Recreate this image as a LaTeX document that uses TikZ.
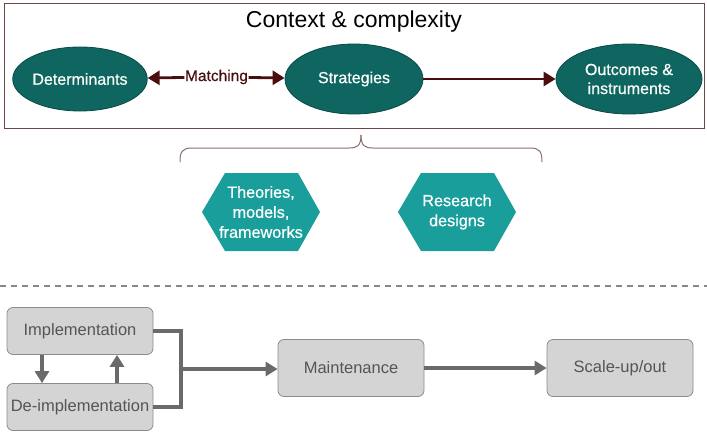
\documentclass[tikz,border=0pt]{standalone}
\usepackage{fontspec}
\setmainfont{Liberation Sans}
\newfontfamily\medfont[FakeBold=0.5]{Liberation Sans}
\usetikzlibrary{shapes.geometric,arrows.meta}
\definecolor{frameC}{HTML}{6E4545}
\definecolor{ellC}{HTML}{0F6661}
\definecolor{ellB}{HTML}{0A4844}
\definecolor{hexC}{HTML}{1A9E9C}
\definecolor{arrC}{HTML}{4A0E0E}
\definecolor{boxC}{HTML}{D4D4D4}
\definecolor{boxB}{HTML}{8C8C8C}
\definecolor{lineC}{HTML}{6A6A6A}
\definecolor{txtC}{HTML}{555555}
\definecolor{braceC}{HTML}{8A6E6E}
\tikzset{
  ell/.style={ellipse, fill=ellC, draw=ellB, line width=0.8pt, text=white, font=\medfont\fontsize{16}{19}\selectfont, align=center, inner sep=0pt},
  hexlab/.style={text=white, font=\medfont\fontsize{16.2}{20}\selectfont, align=center},
  gbox/.style={rectangle, rounded corners=6pt, fill=boxC, draw=boxB, line width=0.8pt, text=txtC, font=\fontsize{16.5}{19}\selectfont, minimum width=146pt, inner sep=0pt},
  darr/.style={draw=arrC, line width=2.8pt, -{Triangle[length=12pt,width=14pt]}},
  garr/.style={draw=lineC, line width=3.2pt, -{Triangle[length=12pt,width=14pt]}},
  gline/.style={draw=lineC, line width=3.2pt},
}
\begin{document}
\begin{tikzpicture}[x=1pt,y=-1pt]
\useasboundingbox (0,0) rectangle (707,434);
% frame
\node[draw=frameC, line width=0.9pt, minimum width=700pt, minimum height=125pt, inner sep=0pt] (frame) at (354,65.5) {};
\node[font=\fontsize{23}{26}\selectfont] (title) at (354,22) {Context \& complexity};
% ellipses
\node[ell, minimum width=134pt, minimum height=64pt] (det) at (80,79) {Determinants};
\node[ell, minimum width=138pt, minimum height=70pt] (str) at (354,79) {Strategies};
\node[ell, minimum width=146pt, minimum height=70pt] (out) at (629,79) {Outcomes \&\\instruments};
\node[text=arrC, font=\medfont\fontsize{15.5}{17}\selectfont, inner sep=0.5pt] (match) at (216.5,77) {Matching};
\draw[darr] (match) -- (det);
\draw[darr] (match) -- (str);
\draw[darr] (str) -- (out);
% brace
\coordinate (bl) at (180,162);
\coordinate (br) at (542,162);
\coordinate (bt) at (361,135);
\draw[braceC, line width=1pt] (bl) .. controls (180,152) and (182,148) .. (192,148) -- (349,148) .. controls (357,148) and (361,146) .. (bt);
\draw[braceC, line width=1pt] (br) .. controls (542,152) and (540,148) .. (530,148) -- (373,148) .. controls (365,148) and (361,146) .. (bt);
% hexagons
\fill[hexC] (202,212) -- (225,173) -- (298,173) -- (320,212) -- (298,251) -- (225,251) -- cycle;
\node[hexlab] (theo) at (261,212) {Theories,\\models,\\frameworks};
\fill[hexC] (398,212) -- (421,173) -- (494,173) -- (516,212) -- (494,251) -- (421,251) -- cycle;
\node[hexlab] (res) at (457,212) {Research\\designs};
% dashed line
\draw[lineC!80, line width=1.2pt, dash pattern=on 6pt off 5pt] (0,286) -- (707,286);
% bottom boxes
\node[gbox, minimum height=47pt] (imp) at (80,331) {Implementation};
\node[gbox, minimum height=47pt] (dei) at (80,407) {De-implementation};
\node[gbox, minimum height=57pt] (main) at (351,368) {Maintenance};
\node[gbox, minimum height=57pt] (scale) at (620,368) {Scale-up/out};
\coordinate (jt) at (181,331);
\coordinate (jb) at (181,407);
\coordinate (jm) at (181,369);
\draw[gline] (imp.east) -- (jt) -- (jb) -- (dei.east);
\draw[garr] (jm) -- (main.west |- jm);
\draw[garr] (main) -- (scale);
\draw[garr] (imp.south -| 42,0) -- (dei.north -| 42,0);
\draw[garr] (dei.north -| 117,0) -- (imp.south -| 117,0);
\end{tikzpicture}
\end{document}
